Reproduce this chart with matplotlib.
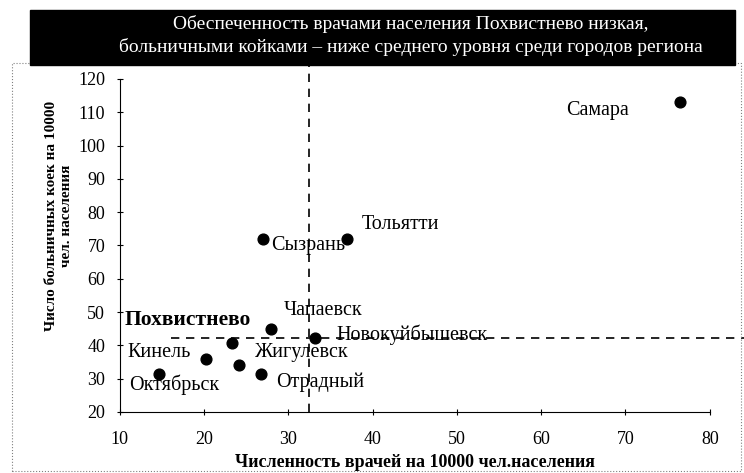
import matplotlib.pyplot as plt
from matplotlib.patches import Rectangle

plt.rcParams['font.family'] = ['Liberation Serif', 'DejaVu Serif']

# данные по городам
cities = ['Самара', 'Тольятти', 'Сызрань', 'Чапаевск', 'Новокуйбышевск',
          'Похвистнево', 'Кинель', 'Жигулевск', 'Отрадный', 'Октябрьск']
doctors = [76.5, 37.0, 27.0, 28.0, 33.2, 23.3, 20.2, 24.2, 26.8, 14.7]
beds = [113.0, 72.0, 72.0, 45.0, 42.2, 40.7, 35.9, 34.0, 31.4, 31.4]
# средние значения по региону
mean_doctors = 32.5
mean_beds = 42.2

# сдвиг подписей в пикселях
offsets = [(-114, -8), (14, 14), (8, -7), (12, 18), (21, 3),
           (-107, 23), (-78, 7), (15, 13), (15, -8), (-30, -11)]

fig = plt.figure(figsize=(7.44, 4.73), dpi=100)
ax = fig.add_axes([0.161, 0.129, 0.793, 0.704])

ax.scatter(doctors, beds, s=60, color='black', zorder=3)
for name, x, y, off in zip(cities, doctors, beds, offsets):
    if name == 'Похвистнево':
        weight, size = 'bold', 15.5
    else:
        weight, size = 'normal', 14.5
    ax.annotate(name, (x, y), xytext=off, textcoords='offset pixels',
                fontsize=size, fontweight=weight, va='center', ha='left')

ax.axvline(mean_doctors, ymin=0, ymax=1.04, color='black', ls=(0, (5, 4)),
           lw=1.2, clip_on=False)
ax.axhline(mean_beds, xmin=0.086, xmax=1.06, color='black', ls=(0, (5, 4)),
           lw=1.2, clip_on=False)

ax.set_xlim(10, 80)
ax.set_ylim(20, 120)
ax.set_xticks(range(10, 81, 10))
ax.set_yticks(range(20, 121, 10))
ax.tick_params(direction='inout', length=5, width=0.8, labelsize=13)
ax.tick_params(axis='x', pad=11)
ax.tick_params(axis='y', pad=8)
for s in ['top', 'right']:
    ax.spines[s].set_visible(False)
for s in ['left', 'bottom']:
    ax.spines[s].set_linewidth(0.8)

ax.set_xlabel('Численность врачей на 10000 чел.населения', fontsize=13,
              fontweight='bold')
ax.xaxis.set_label_coords(0.5, -0.125)
ax.set_ylabel('Число больничных коек на 10000\nчел. населения', fontsize=11,
              fontweight='bold')
ax.yaxis.set_label_coords(-0.08, 0.59)

# рамка области диаграммы
fig.patches.append(Rectangle((0.016, 0.004), 0.98, 0.862, transform=fig.transFigure,
                             fill=False, ls=':', lw=0.8, ec='gray'))
# черная плашка заголовка
fig.patches.append(Rectangle((0.040, 0.862), 0.948, 0.116, transform=fig.transFigure,
                             color='black'))
fig.text(0.552, 0.925, 'Обеспеченность врачами населения Похвистнево низкая,\n'
         'больничными койками – ниже среднего уровня среди городов региона',
         color='white', fontsize=14, ha='center', va='center', linespacing=1.3)

fig.savefig('out.png', dpi=100)
